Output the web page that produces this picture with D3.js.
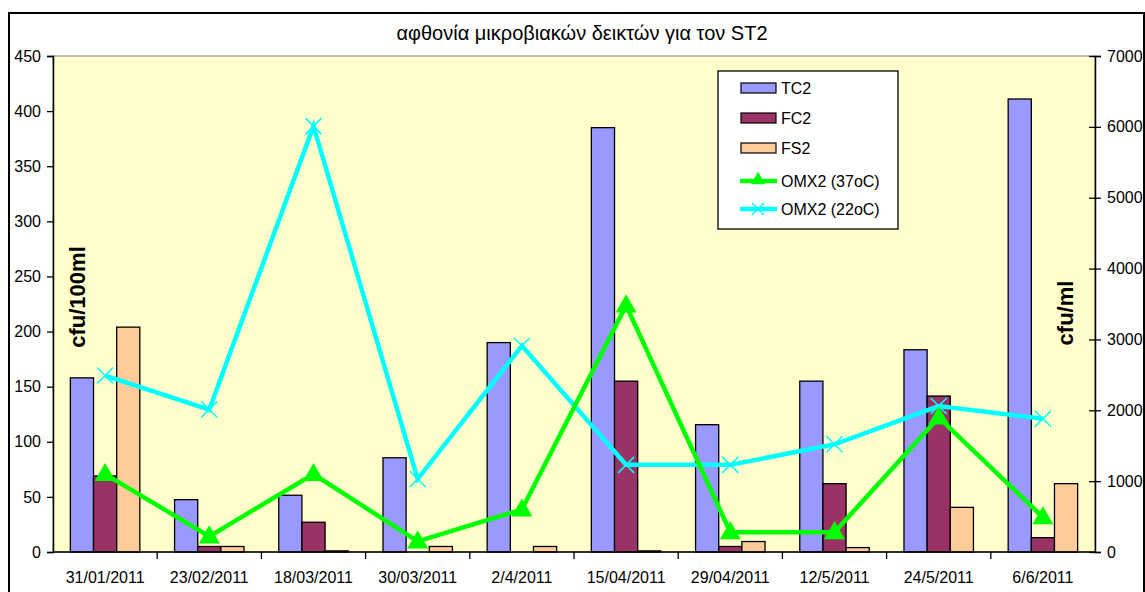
<!DOCTYPE html>
<html><head><meta charset="utf-8">
<script src="https://cdn.jsdelivr.net/npm/d3@7"></script>
<style>body{margin:0;background:#fff}svg{display:block;font-family:"Liberation Sans",Arial,sans-serif}</style>
</head><body><svg id="c" width="1145" height="592"></svg>
<script>
const categories = ["31/01/2011","23/02/2011","18/03/2011","30/03/2011","2/4/2011","15/04/2011","29/04/2011","12/5/2011","24/5/2011","6/6/2011"];
const tc2 = [158, 47.5, 51.5, 85.5, 190, 385, 115.5, 155, 183.5, 411];
const fc2 = [69, 5, 27, 0, 0, 155, 5, 62, 141.5, 13];
const fs2 = [204, 5, 1, 5, 5, 1, 9.5, 4, 40.5, 62];
const omx37 = [1100, 220, 1100, 150, 600, 3480, 280, 280, 1900, 490];
const omx22 = [2490, 2010, 6010, 1030, 2910, 1230, 1230, 1520, 2060, 1880];
const leftTicks = [0,50,100,150,200,250,300,350,400,450];
const rightTicks = [0,1000,2000,3000,4000,5000,6000,7000];
const title = "αφθονία μικροβιακών δεικτών για τον ST2";

const svg = d3.select("#c");
const L = 53, R = 1095, T = 56, B = 552;
svg.append("rect").attr("x",9).attr("y",13).attr("width",1135).attr("height",620)
  .attr("fill","#fff").attr("stroke","#000").attr("stroke-width",2);
svg.append("rect").attr("x",L).attr("y",T).attr("width",R-L).attr("height",B-T)
  .attr("fill","#FFFFCC").attr("stroke","#808080").attr("stroke-width",1);
svg.append("text").attr("x",582).attr("y",40).attr("text-anchor","middle")
  .attr("font-size",20).text(title);

const x = d3.scaleBand().domain(categories).range([L,R]).paddingInner(0).paddingOuter(0);
const yL = d3.scaleLinear().domain([0,450]).range([B,T]);
const yR = d3.scaleLinear().domain([0,7000]).range([B,T]);
const bw = x.bandwidth()/4.5;
const series = [{v:tc2,c:"#9999FF",n:"TC2"},{v:fc2,c:"#993366",n:"FC2"},{v:fs2,c:"#FFCC99",n:"FS2"}];
series.forEach((s,si)=>{
  svg.append("g").selectAll("rect").data(s.v).join("rect")
    .attr("x",(d,i)=>x(categories[i]) + bw*0.75 + si*bw)
    .attr("y",d=>yL(d)).attr("width",bw).attr("height",d=>B-yL(d))
    .attr("fill",s.c).attr("stroke","#000").attr("stroke-width",1.3);
});
const cx = i => x(categories[i]) + x.bandwidth()/2;
const line = d3.line().x((d,i)=>cx(i)).y(d=>yR(d));
svg.append("path").datum(omx22).attr("d",line).attr("fill","none").attr("stroke","#00FFFF").attr("stroke-width",4.5);
svg.append("path").datum(omx37).attr("d",line).attr("fill","none").attr("stroke","#00FF00").attr("stroke-width",4.5);
const xm = svg.append("g");
omx22.forEach((d,i)=>{
  const px=cx(i), py=yR(d), s=8;
  xm.append("path").attr("d",`M${px-s},${py-s}L${px+s},${py+s}M${px-s},${py+s}L${px+s},${py-s}`)
    .attr("stroke","#00FFFF").attr("stroke-width",1.5);
});
const tri = d3.symbol().type(d3.symbolTriangle).size(190);
svg.append("g").selectAll("path").data(omx37).join("path")
  .attr("d",tri).attr("transform",(d,i)=>`translate(${cx(i)},${yR(d)+1})`).attr("fill","#00FF00");

const axL = svg.append("g").attr("transform",`translate(${L},0)`)
  .call(d3.axisLeft(yL).tickValues(leftTicks).tickSize(6).tickPadding(6));
const axR = svg.append("g").attr("transform",`translate(${R},0)`)
  .call(d3.axisRight(yR).tickValues(rightTicks).tickFormat(d3.format("d")).tickSize(6).tickPadding(6));
axR.selectAll(".tick line").attr("x1",-6);
const axB = svg.append("g").attr("transform",`translate(0,${B})`)
  .call(d3.axisBottom(x).tickSize(0).tickPadding(20));
[axL,axR,axB].forEach(a=>{
  a.selectAll(".domain").attr("stroke","#000").attr("stroke-width",1.5);
  a.selectAll(".tick line").attr("stroke","#000").attr("stroke-width",1.3);
  a.selectAll("text").attr("font-size",16).attr("fill","#000").attr("font-family","Liberation Sans, Arial, sans-serif");
});
axB.select(".domain").attr("d",`M${L},0H${R}`);
svg.append("g").selectAll("line").data(d3.range(1,categories.length)).join("line")
  .attr("x1",i=>L+i*x.bandwidth()).attr("x2",i=>L+i*x.bandwidth())
  .attr("y1",B).attr("y2",B+7).attr("stroke","#000").attr("stroke-width",1.3);

svg.append("text").attr("transform","translate(85,297) rotate(-90)").attr("text-anchor","middle")
  .attr("font-size",22).attr("font-weight","bold").text("cfu/100ml");
svg.append("text").attr("transform","translate(1073,313) rotate(-90)").attr("text-anchor","middle")
  .attr("font-size",22).attr("font-weight","bold").text("cfu/ml");

const lg = svg.append("g");
lg.append("rect").attr("x",718).attr("y",71).attr("width",180).attr("height",158)
  .attr("fill","#fff").attr("stroke","#000").attr("stroke-width",1.3);
const items = [
  {n:"TC2",t:"bar",c:"#9999FF",y:88},{n:"FC2",t:"bar",c:"#993366",y:118},{n:"FS2",t:"bar",c:"#FFCC99",y:148},
  {n:"OMX2 (37oC)",t:"tri",c:"#00FF00",y:181},{n:"OMX2 (22oC)",t:"x",c:"#00FFFF",y:209}];
items.forEach(it=>{
  if(it.t==="bar"){
    lg.append("rect").attr("x",741).attr("y",it.y-5).attr("width",35).attr("height",10)
      .attr("fill",it.c).attr("stroke","#000").attr("stroke-width",1.2);
  } else {
    lg.append("line").attr("x1",740).attr("x2",777).attr("y1",it.y).attr("y2",it.y).attr("stroke",it.c).attr("stroke-width",4.5);
    if(it.t==="tri") lg.append("path").attr("d",d3.symbol().type(d3.symbolTriangle).size(90)).attr("transform",`translate(758,${it.y-1})`).attr("fill",it.c);
    else lg.append("path").attr("d",`M752,${it.y-6}L764,${it.y+6}M752,${it.y+6}L764,${it.y-6}`).attr("stroke",it.c).attr("stroke-width",1.5);
  }
  lg.append("text").attr("x",781).attr("y",it.y+6).attr("font-size",16).text(it.n);
});
</script></body></html>
